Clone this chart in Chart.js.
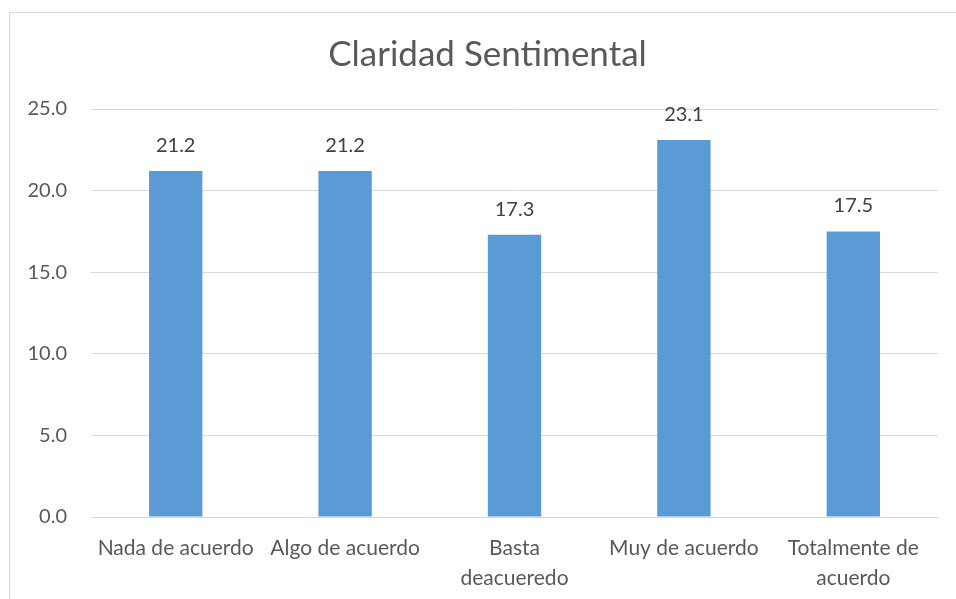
<!DOCTYPE html>
<html>
<head>
<meta charset="utf-8">
<script src="https://cdn.jsdelivr.net/npm/chart.js@4"></script>
<style>
  html, body { margin: 0; padding: 0; background: #fff; overflow: hidden; }
  #frame { position: absolute; left: 9px; top: 12px; width: 980px; height: 620px; border: 1px solid #d9d9d9; pointer-events: none; }
  canvas { position: absolute; left: 0; top: 0; }
</style>
</head>
<body>
<canvas id="chart" width="956" height="599"></canvas>
<div id="frame"></div>
<script>
// Chart data
const categories = [
  "Nada de acuerdo",
  "Algo de acuerdo",
  ["Basta", "deacueredo"],
  "Muy de acuerdo",
  ["Totalmente de", "acuerdo"],
]
const values = [21.2, 21.2, 17.3, 23.1, 17.5]
const yTicks = [0, 5, 10, 15, 20, 25]

const FONT = "Lato, 'Open Sans', sans-serif"

// draws the value above each bar
const valueLabels = {
  id: "valueLabels",
  afterDatasetsDraw(chart) {
    const ctx = chart.ctx
    const meta = chart.getDatasetMeta(0)
    ctx.save()
    ctx.font = "20px " + FONT
    ctx.fillStyle = "#404040"
    ctx.textAlign = "center"
    ctx.textBaseline = "middle"
    meta.data.forEach((bar, i) => {
      ctx.fillText(values[i].toFixed(1), bar.x, bar.y - 25.5)
    })
    ctx.restore()
  },
}

const ctx = document.getElementById("chart").getContext("2d")
new Chart(ctx, {
  type: "bar",
  data: {
    labels: categories,
    datasets: [
      {
        data: values,
        backgroundColor: "#5b9bd5",
        categoryPercentage: 1,
        barPercentage: 0.315,
      },
    ],
  },
  plugins: [valueLabels],
  options: {
    responsive: false,
    animation: false,
    layout: { padding: { left: 19, right: 0, top: 0, bottom: 0 } },
    plugins: {
      legend: { display: false },
      tooltip: { enabled: false },
      title: {
        display: true,
        text: "Claridad Sentimental",
        color: "#595959",
        font: { family: FONT, size: 35, weight: "normal", lineHeight: 1.2 },
        padding: { top: 34, bottom: 33 },
      },
    },
    scales: {
      x: {
        grid: { display: false, drawTicks: false },
        border: { display: true, color: "#d9d9d9" },
        ticks: {
          color: "#595959",
          font: { family: FONT, size: 21, lineHeight: 1.4 },
          padding: 17,
          autoSkip: false,
          maxRotation: 0,
          minRotation: 0,
        },
        afterFit(scale) { scale.height = 82 },
      },
      y: {
        min: 0,
        max: 25,
        afterBuildTicks(scale) { scale.ticks = yTicks.map(v => ({ value: v })) },
        grid: { color: "#d9d9d9", drawTicks: false },
        border: { display: false },
        ticks: {
          color: "#595959",
          font: { family: FONT, size: 20 },
          padding: 24,
          callback: v => Number(v).toFixed(1),
        },
        afterFit(scale) { scale.width = 72 },
      },
      // empty right axis, only keeps a margin on the right of the plot
      yRight: {
        position: "right",
        min: 0,
        max: 25,
        grid: { display: false, drawTicks: false },
        border: { display: false },
        ticks: { display: false },
        afterFit(scale) { scale.width = 18 },
      },
    },
  },
})
</script>
</body>
</html>
